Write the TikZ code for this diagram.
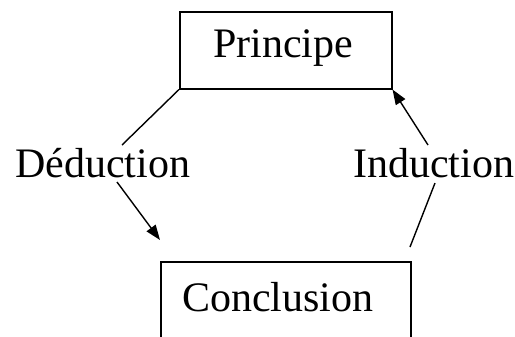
\documentclass[tikz,border=0pt]{standalone}
\usepackage{fontspec}
\setmainfont{Liberation Serif}
\usetikzlibrary{arrows.meta}
\begin{document}
\begin{tikzpicture}[x=1bp,y=-1bp,
  lbl/.style={font=\fontsize{42bp}{50bp}\selectfont, inner sep=0pt, anchor=base west},
  boxn/.style={draw, line width=1.5bp, inner sep=0pt, anchor=north west},
  conn/.style={line width=1.4bp},
  arr/.style={conn, -{Triangle[length=15bp,width=11bp]}}]
\useasboundingbox (0,0) rectangle (515,336);
\node[boxn, minimum width=212bp, minimum height=77bp] (P) at (179,11) {};
\node[lbl] (Pt) at (213,57) {Principe};
\node[boxn, minimum width=250bp, minimum height=100bp] (C) at (160,261) {};
\node[lbl] (Ct) at (182,311) {Conclusion};
\node[lbl] (D) at (15,177) {Déduction};
\node[lbl] (I) at (353,177) {Induction};
\coordinate (d1) at (122,145);
\coordinate (d2) at (117,182);
\coordinate (dtip) at (160,240);
\coordinate (itail) at (410,247);
\coordinate (i2) at (435,183);
\coordinate (i1) at (428,145);
\draw[conn] (P.south west) -- (d1);
\draw[arr] (d2) -- (dtip);
\draw[conn] (itail) -- (i2);
\draw[arr] (i1) -- (P.south east);
\end{tikzpicture}
\end{document}
